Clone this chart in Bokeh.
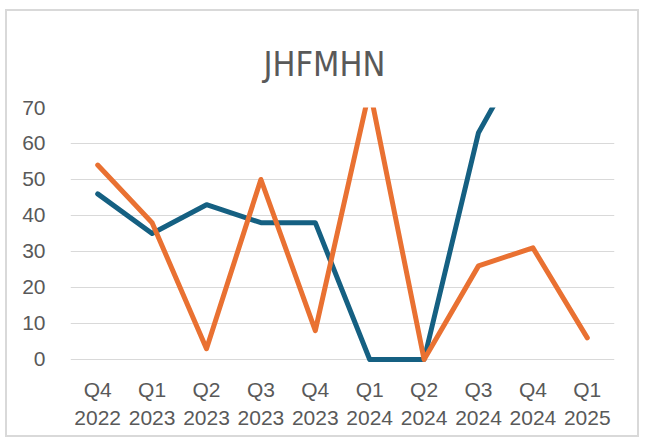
from bokeh.plotting import figure
from bokeh.models import Range1d, FixedTicker, LinearAxis, Title
from bokeh.embed import file_html
from bokeh.resources import INLINE

quarters = ["Q4", "Q1", "Q2", "Q3", "Q4", "Q1", "Q2", "Q3", "Q4", "Q1"]
years = ["2022", "2023", "2023", "2023", "2023", "2024", "2024", "2024", "2024", "2025"]
categories = [q + " " + y for q, y in zip(quarters, years)]
series_blue = [46, 35, 43, 38, 38, 0, 0, 63, 90, float("nan")]
series_orange = [54, 38, 3, 50, 8, 75, 0, 26, 31, 6]
y_ticks = [0, 10, 20, 30, 40, 50, 60, 70]

TEXT = "#595959"
GRID = "#D9D9D9"
FONT = "Liberation Sans"

# category positions (one slot per quarter)
idx = list(range(len(categories)))

p = figure(width=634, height=428, x_range=Range1d(-0.5, len(categories) - 0.5),
           y_range=Range1d(-1.4, 70), output_backend="svg", toolbar_location=None,
           min_border_left=63, min_border_right=27, min_border_top=96, min_border_bottom=75,
           x_axis_location=None)
p.styles = {"border": "2px solid #D9D9D9", "margin-left": "5px", "margin-top": "9px"}
p.outline_line_color = None
p.background_fill_color = "white"
p.border_fill_color = "white"

t = Title(text="JHFMHN", align="left", vertical_align="top",
          text_font="DejaVu Sans Condensed, Liberation Sans",
          text_font_size="34px", text_font_style="normal", text_color=TEXT,
          offset=193, standoff=44)
p.title = t

p.line(idx, series_blue, line_color="#156082", line_width=5,
       line_join="round", line_cap="round")
p.line(idx, series_orange, line_color="#E97132", line_width=5,
       line_join="round", line_cap="round")

# y axis
ya = p.yaxis[0]
ya.ticker = FixedTicker(ticks=y_ticks)
ya.axis_line_color = None
ya.major_tick_line_color = None
ya.minor_tick_line_color = None
ya.major_label_standoff = 19
ya.major_label_text_font = FONT
ya.major_label_text_font_size = "21px"
ya.major_label_text_color = TEXT

p.ygrid.ticker = FixedTicker(ticks=y_ticks)
p.ygrid.grid_line_color = GRID
p.ygrid.grid_line_width = 1
p.xgrid.grid_line_color = None

def make_xaxis(labels, standoff):
    ax = LinearAxis()
    ax.ticker = FixedTicker(ticks=idx)
    ax.axis_line_color = None
    ax.major_tick_line_color = None
    ax.minor_tick_line_color = None
    ax.major_tick_out = 0
    ax.major_tick_in = 0
    ax.major_label_standoff = standoff
    ax.major_label_text_font = FONT
    ax.major_label_text_font_size = "21px"
    ax.major_label_text_color = TEXT
    ax.major_label_overrides = {i: l for i, l in zip(idx, labels)}
    return ax

p.add_layout(make_xaxis(quarters, 13), "below")
p.add_layout(make_xaxis(years, 7), "below")

open("out.html", "w").write(file_html(p, INLINE))
